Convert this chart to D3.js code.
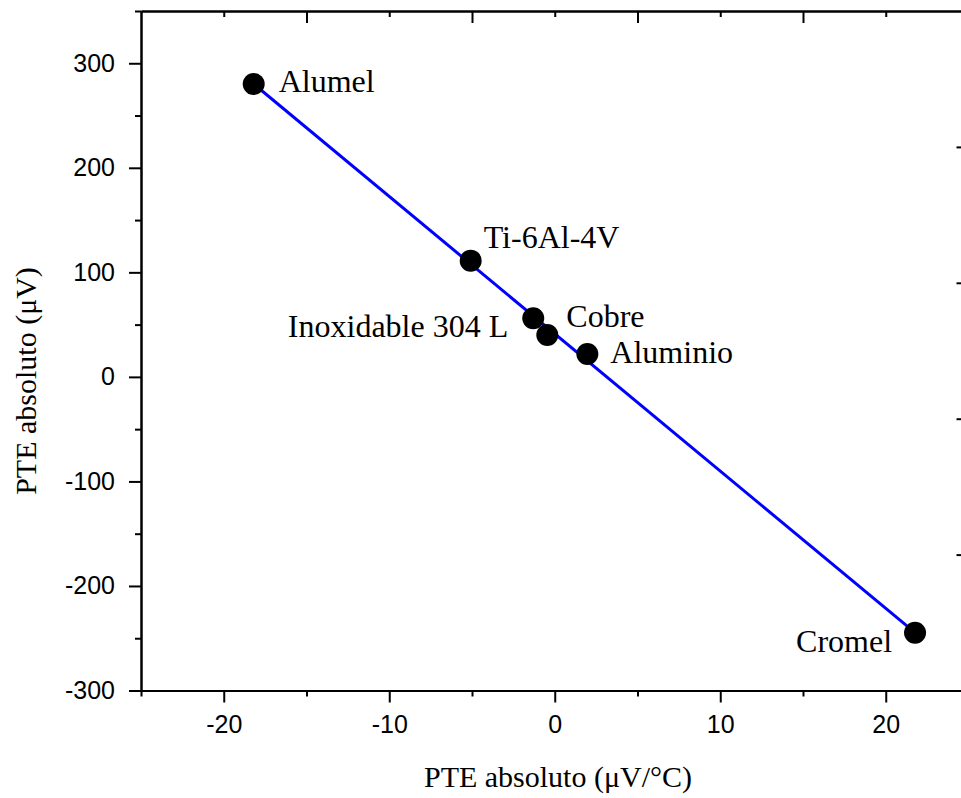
<!DOCTYPE html>
<html>
<head>
<meta charset="utf-8">
<script src="https://cdn.jsdelivr.net/npm/d3@7"></script>
<style>
  body { margin: 0; background: #fff; }
</style>
</head>
<body>
<div id="chart-area"></div>
<script>
// materials and their absolute thermoelectric power
var materials = ["Alumel", "Ti-6Al-4V", "Inoxidable 304 L", "Cobre", "Aluminio", "Cromel"];
var pteCoef = [-18.19, -5.08, -1.30, -0.45, 1.97, 21.77];   // uV/°C
var pteAbs = [280.2, 111.2, 56.1, 40.1, 21.9, -244.7];       // uV

// fitted line end points
var fitX = [-18.19, 21.77];
var fitY = [280.2, -244.7];

// ticks
var xMajor = [-20, -10, 0, 10, 20];
var xMinor = [-25, -15, -5, 5, 15, 25];
var yMajor = [-300, -200, -100, 0, 100, 200, 300];
var yMinor = [-250, -150, -50, 50, 150, 250, 350];
var topMajor = [-15, -5, 5, 15];
var topMinor = [-20, -10, 0, 10, 20];
var rightTicks = [1, 2, 3, 4];

var width = 961, height = 798;
var plotLeft = 141, plotRight = 968.5, plotTop = 11, plotBottom = 690.5;

var svg = d3.select("#chart-area").append("svg")
    .attr("width", width)
    .attr("height", height);

var x = d3.scaleLinear().domain([-25, 25]).range([plotLeft, plotRight]);
var y = d3.scaleLinear().domain([-300, 350]).range([plotBottom, plotTop]);
var yRight = d3.scaleLinear().domain([0, 5]).range([plotBottom, plotTop]);

// plain hyphen for negatives, like the original
var plainNum = function(d){ return String(d); };

function styleAxis(g){
    g.select(".domain").attr("stroke", "#000").attr("stroke-width", 2);
    g.selectAll(".tick line").attr("stroke", "#000").attr("stroke-width", 2);
    g.selectAll(".tick text")
        .attr("fill", "#000")
        .attr("font-family", "'Liberation Sans', Arial, sans-serif")
        .attr("font-size", 25);
}

// bottom axis
svg.append("g")
    .attr("transform", "translate(0," + plotBottom + ")")
    .call(d3.axisBottom(x).tickValues(xMinor).tickSize(6).tickFormat("").tickSizeOuter(0))
    .call(styleAxis);
svg.append("g")
    .attr("transform", "translate(0," + plotBottom + ")")
    .call(d3.axisBottom(x).tickValues(xMajor).tickSize(12).tickPadding(13).tickFormat(plainNum).tickSizeOuter(0))
    .call(styleAxis);

// left axis
svg.append("g")
    .attr("transform", "translate(" + plotLeft + ",0)")
    .call(d3.axisLeft(y).tickValues(yMinor).tickSize(6).tickFormat("").tickSizeOuter(0))
    .call(styleAxis);
svg.append("g")
    .attr("transform", "translate(" + plotLeft + ",0)")
    .call(d3.axisLeft(y).tickValues(yMajor).tickSize(12).tickPadding(14).tickFormat(plainNum).tickSizeOuter(0))
    .call(styleAxis);

// top axis (ticks inside, no labels)
svg.append("g")
    .attr("transform", "translate(0," + plotTop + ")")
    .call(d3.axisBottom(x).tickValues(topMinor).tickSize(6).tickFormat("").tickSizeOuter(0))
    .call(styleAxis);
svg.append("g")
    .attr("transform", "translate(0," + plotTop + ")")
    .call(d3.axisBottom(x).tickValues(topMajor).tickSize(12).tickFormat("").tickSizeOuter(0))
    .call(styleAxis);

// right axis (ticks inside, no labels)
svg.append("g")
    .attr("transform", "translate(" + plotRight + ",0)")
    .call(d3.axisLeft(yRight).tickValues(rightTicks).tickSize(12).tickFormat("").tickSizeOuter(0))
    .call(styleAxis);

// fitted line
var fit = fitX.map(function(d, i){ return [d, fitY[i]]; });
svg.append("path")
    .datum(fit)
    .attr("fill", "none")
    .attr("stroke", "#0000ff")
    .attr("stroke-width", 3)
    .attr("d", d3.line()
        .x(function(d){ return x(d[0]); })
        .y(function(d){ return y(d[1]); }));

// points
var rows = materials.map(function(m, i){
    return { name: m, coef: pteCoef[i], abs: pteAbs[i] };
});

svg.selectAll("circle.pt")
    .data(rows)
    .enter()
    .append("circle")
        .attr("class", "pt")
        .attr("cx", function(d){ return x(d.coef); })
        .attr("cy", function(d){ return y(d.abs); })
        .attr("r", 11)
        .attr("fill", "#000");

// label offsets relative to each point
var labelDx = [25, 13, -25, 19, 23, -23];
var labelDy = [8, -13, 19, -8, 9, 19];
var labelAnchor = ["start", "start", "end", "start", "start", "end"];

svg.selectAll("text.lbl")
    .data(rows)
    .enter()
    .append("text")
        .attr("class", "lbl")
        .attr("x", function(d, i){ return x(d.coef) + labelDx[i]; })
        .attr("y", function(d, i){ return y(d.abs) + labelDy[i]; })
        .attr("text-anchor", function(d, i){ return labelAnchor[i]; })
        .attr("font-family", "'Liberation Serif', 'Times New Roman', serif")
        .attr("font-size", 32)
        .attr("fill", "#000")
        .text(function(d){ return d.name; });

// axis titles
svg.append("text")
    .attr("x", 558)
    .attr("y", 787)
    .attr("text-anchor", "middle")
    .attr("font-family", "'Liberation Serif', 'Times New Roman', serif")
    .attr("font-size", 30)
    .text("PTE absoluto (\u03bcV/\u00b0C)");

svg.append("text")
    .attr("transform", "translate(36,381) rotate(-90)")
    .attr("text-anchor", "middle")
    .attr("font-family", "'Liberation Serif', 'Times New Roman', serif")
    .attr("font-size", 30)
    .text("PTE absoluto (\u03bcV)");
</script>
</body>
</html>
